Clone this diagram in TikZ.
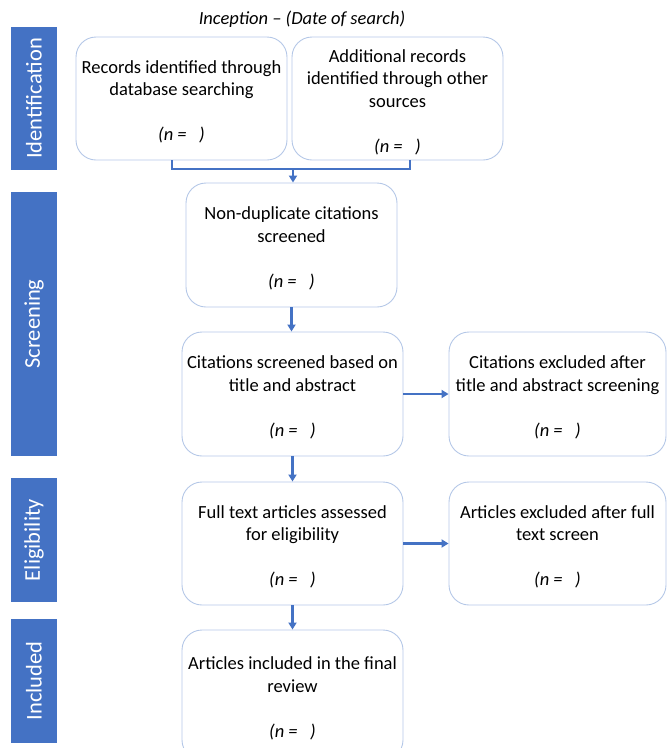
\documentclass[tikz,border=0pt]{standalone}
\usepackage{fontspec}
\setmainfont{Carlito}
\usetikzlibrary{arrows.meta}
\definecolor{barblue}{HTML}{4472C4}
\definecolor{boxline}{HTML}{B4C7E7}
\newcommand\toppad{\rule{0pt}{20pt}}
\begin{document}
\begin{tikzpicture}[x=1pt,y=-1pt,
  stagebox/.style={draw=boxline, line width=0.9pt, rounded corners=20pt, align=center,
    font=\fontsize{18.5}{22.5}\selectfont, inner sep=0pt},
  sidebar/.style={fill=barblue, text=white, minimum height=46pt, inner sep=0pt, rotate=90,
    font=\fontsize{22.5}{27}\selectfont},
  flow/.style={draw=barblue, line width=2.2pt},
  flowarrow/.style={flow, -{Triangle[length=7pt,width=8pt]}}
]
\useasboundingbox (0,0) rectangle (667,748);
\clip (0,0) rectangle (667,748);

% title
\node[font=\fontsize{18.5}{22.5}\selectfont\itshape] (title) at (302,19) {Inception – (Date of search)};

% side bars
\node[sidebar, minimum width=143pt] (sid) at (34,98.5) {Identification};
\node[sidebar, minimum width=264pt] (sscr) at (34,324) {Screening};
\node[sidebar, minimum width=124pt] (selig) at (34,540) {Eligibility};
\node[sidebar, minimum width=124pt] (sinc) at (34,681) {Included};

% boxes
\node[stagebox, minimum width=211pt, minimum height=123pt] (b1) at (181.5,98.5)
  {\toppad Records identified through\\database searching\\[22.5pt]\textit{(n =\ \ \ )}};
\node[stagebox, minimum width=211pt, minimum height=123pt] (b2) at (397.5,98.5)
  {\toppad Additional records\\identified through other\\sources\\[22.5pt]\textit{(n =\ \ \ )}};
\node[stagebox, minimum width=211pt, minimum height=124pt] (b3) at (291.5,245)
  {\toppad Non-duplicate citations\\screened\\[22.5pt]\textit{(n =\ \ \ )}};
\node[stagebox, minimum width=221pt, minimum height=124pt] (b4) at (292.5,394)
  {\toppad Citations screened based on\\title and abstract\\[22.5pt]\textit{(n =\ \ \ )}};
\node[stagebox, minimum width=217pt, minimum height=124pt] (b5) at (557.5,394)
  {\toppad Citations excluded after\\title and abstract screening\\[22.5pt]\textit{(n =\ \ \ )}};
\node[stagebox, minimum width=221pt, minimum height=123pt] (b6) at (292.5,543.5)
  {\toppad Full text articles assessed\\for eligibility\\[22.5pt]\textit{(n =\ \ \ )}};
\node[stagebox, minimum width=217pt, minimum height=123pt] (b7) at (557.5,543.5)
  {\toppad Articles excluded after full\\text screen\\[22.5pt]\textit{(n =\ \ \ )}};
\node[stagebox, minimum width=221pt, minimum height=130pt] (b8) at (292.5,695)
  {\toppad Articles included in the final\\review\\[22.5pt]\textit{(n =\ \ \ )}};

% connectors
\coordinate (join) at (293,169);
\draw[flow] ([xshift=-9.5pt]b1.south) |- (join) -| ([xshift=12.5pt]b2.south);
\draw[flowarrow] (join) -- (join |- b3.north);
\draw[flowarrow] (b3.south) -- (b3.south |- b4.north);
\draw[flowarrow] (b4.south) -- (b4.south |- b6.north);
\draw[flowarrow] (b6.south) -- (b6.south |- b8.north);
\draw[flowarrow] (b4.east) -- (b4.east -| b5.west);
\draw[flowarrow] (b6.east) -- (b6.east -| b7.west);
\end{tikzpicture}
\end{document}
